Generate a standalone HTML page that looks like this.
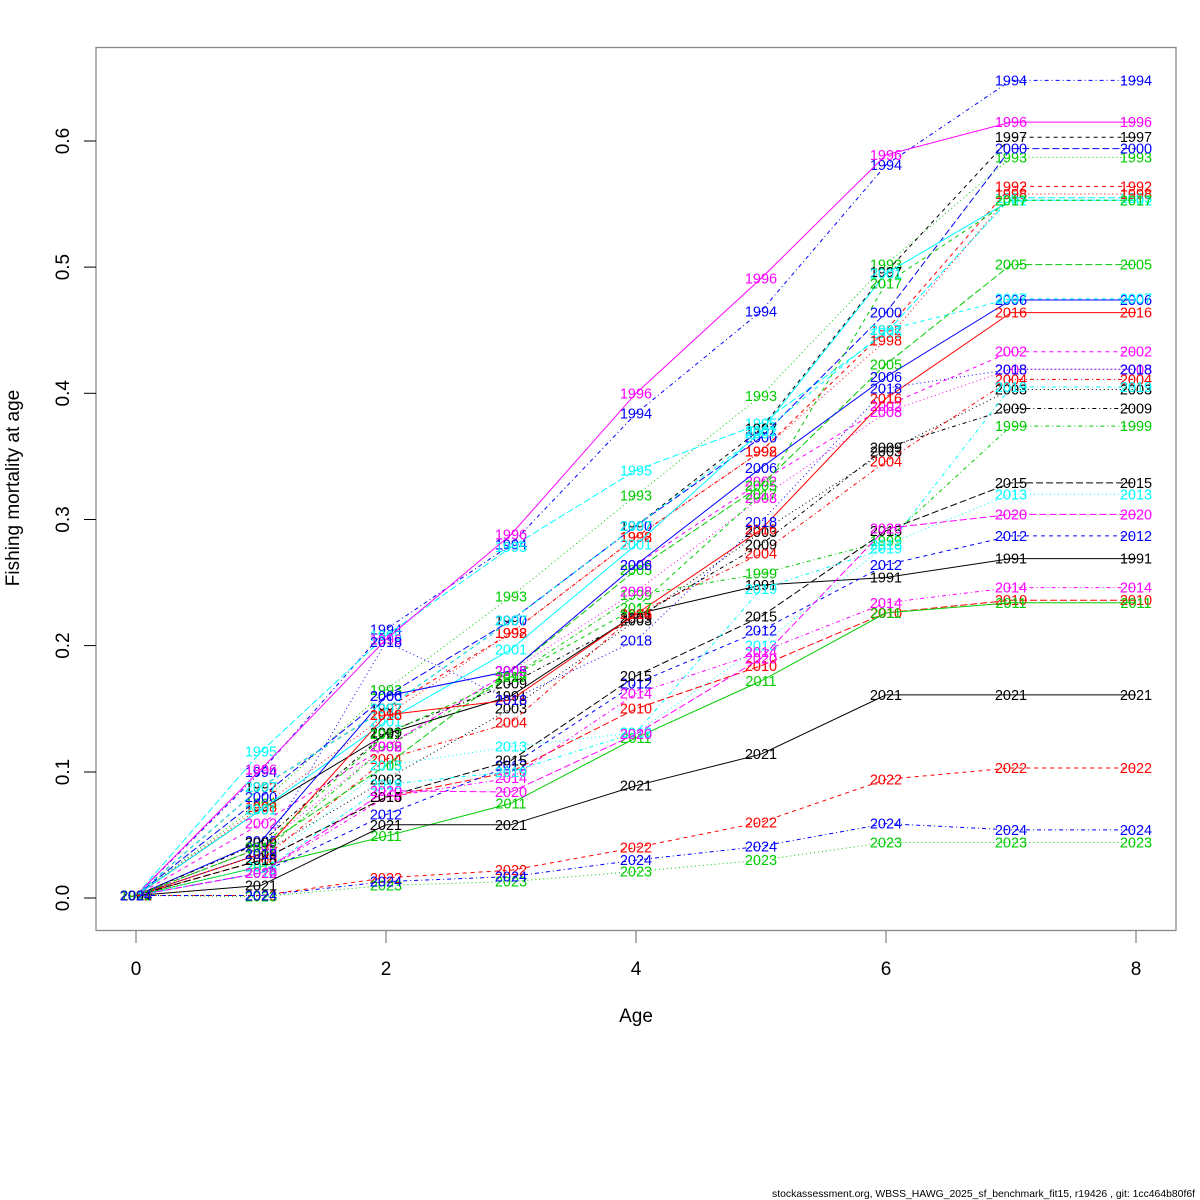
<!DOCTYPE html>
<html><head><meta charset="utf-8"><style>
html,body{margin:0;padding:0;background:#fff;}
svg{display:block;font-family:"Liberation Sans",sans-serif;}
</style></head><body>
<svg id="s" width="1200" height="1200" xmlns="http://www.w3.org/2000/svg">
<rect x="0" y="0" width="1200" height="1200" fill="#fff"/>
<rect x="96" y="47.5" width="1080" height="883" fill="none" stroke="#888" stroke-width="1.3"/>
<g stroke="#000" stroke-width="1">
<line x1="84" y1="898" x2="96" y2="898"/><line x1="84" y1="772" x2="96" y2="772"/><line x1="84" y1="645.6" x2="96" y2="645.6"/><line x1="84" y1="519.5" x2="96" y2="519.5"/><line x1="84" y1="393.3" x2="96" y2="393.3"/><line x1="84" y1="267.1" x2="96" y2="267.1"/><line x1="84" y1="141" x2="96" y2="141"/>
</g>
<g stroke="#888" stroke-width="1.3">
<line x1="136" y1="931" x2="136" y2="943"/><line x1="386" y1="931" x2="386" y2="943"/><line x1="636" y1="931" x2="636" y2="943"/><line x1="886" y1="931" x2="886" y2="943"/><line x1="1136" y1="931" x2="1136" y2="943"/>
</g>
<g font-size="19" text-anchor="middle" fill="#000">
<text transform="translate(69,898) rotate(-90)">0.0</text>
<text transform="translate(69,772) rotate(-90)">0.1</text>
<text transform="translate(69,645.6) rotate(-90)">0.2</text>
<text transform="translate(69,519.5) rotate(-90)">0.3</text>
<text transform="translate(69,393.3) rotate(-90)">0.4</text>
<text transform="translate(69,267.1) rotate(-90)">0.5</text>
<text transform="translate(69,141) rotate(-90)">0.6</text>
<text x="136" y="975">0</text><text x="386" y="975">2</text><text x="636" y="975">4</text><text x="886" y="975">6</text><text x="1136" y="975">8</text>
<text x="636" y="1022">Age</text>
<text transform="translate(19,488) rotate(-90)">Fishing mortality at age</text>
</g>
<text x="1195" y="1197" font-size="10.4" text-anchor="end">stockassessment.org, WBSS_HAWG_2025_sf_benchmark_fit15, r19426 , git: 1cc464b80f6f</text>
<g id="g"></g>
</svg>
<script>
var D={
1991:[.002,.07,.13,.16,.225,.248,.254,.269],
1992:[.002,.088,.15,.21,.286,.354,.45,.564],
1993:[.002,.075,.165,.239,.319,.398,.502,.587],
1994:[.002,.1,.213,.28,.384,.465,.581,.648],
1995:[.002,.116,.208,.278,.339,.376,.448,.555],
1996:[.002,.102,.205,.288,.400,.491,.589,.615],
1997:[.002,.088,.15,.22,.295,.372,.496,.603],
1998:[.002,.072,.145,.21,.286,.354,.442,.558],
1999:[.002,.035,.12,.175,.24,.257,.283,.374],
2000:[.002,.08,.16,.22,.295,.365,.464,.594],
2001:[.002,.07,.14,.197,.28,.37,.495,.553],
2002:[.002,.059,.12,.18,.264,.33,.39,.433],
2003:[.002,.035,.094,.15,.22,.29,.354,.403],
2004:[.002,.03,.11,.139,.225,.273,.346,.411],
2005:[.002,.04,.105,.18,.26,.327,.423,.502],
2006:[.002,.045,.16,.18,.264,.341,.413,.474],
2007:[.002,.088,.15,.22,.295,.368,.45,.475],
2008:[.002,.04,.12,.18,.243,.317,.385,.419],
2009:[.002,.044,.131,.17,.222,.28,.357,.388],
2010:[.002,.03,.08,.10,.15,.184,.226,.236],
2011:[.002,.025,.049,.075,.127,.172,.226,.234],
2012:[.002,.02,.066,.105,.17,.212,.264,.287],
2013:[.002,.025,.105,.12,.131,.2,.28,.320],
2014:[.002,.02,.08,.095,.162,.195,.234,.246],
2015:[.002,.03,.08,.109,.176,.223,.291,.329],
2016:[.002,.035,.145,.157,.225,.292,.396,.464],
2017:[.002,.04,.13,.175,.23,.32,.487,.553],
2018:[.002,.035,.203,.157,.204,.298,.404,.419],
2019:[.002,.02,.09,.10,.131,.245,.277,.405],
2020:[.002,.02,.085,.084,.13,.19,.293,.304],
2021:[.002,.01,.058,.058,.089,.114,.161,.161],
2022:[.002,.002,.016,.022,.040,.060,.094,.103],
2023:[.002,.001,.010,.013,.021,.030,.044,.044],
2024:[.002,.002,.013,.017,.030,.041,.059,.054]};
var cols=["#000","#f00","#0c0","#00f","#0ff","#f0f"];
var dash=["","4,4","1,3","1,3,4,3","7,3"];
var h="";
for(var y=1991;y<=2024;y++){var i=y-1991,v=D[y].slice();v.push(v[7]);
var c=cols[i%6],d=dash[i%5],p="",t="";
for(var a=0;a<9;a++){var X=136+125*a,Y=898-v[a]*1261.7;p+=(a?"L":"M")+X.toFixed(1)+","+Y.toFixed(1);
t+='<text x="'+X+'" y="'+(Y+5).toFixed(1)+'">'+y+'</text>';}
h+='<path d="'+p+'" fill="none" stroke="'+c+'" stroke-width="1"'+(d?' stroke-dasharray="'+d+'"':'')+'/>';
h+='<g fill="'+c+'" font-size="14.5" text-anchor="middle">'+t+'</g>';}
document.getElementById("g").innerHTML=h;
</script>
</body></html>
